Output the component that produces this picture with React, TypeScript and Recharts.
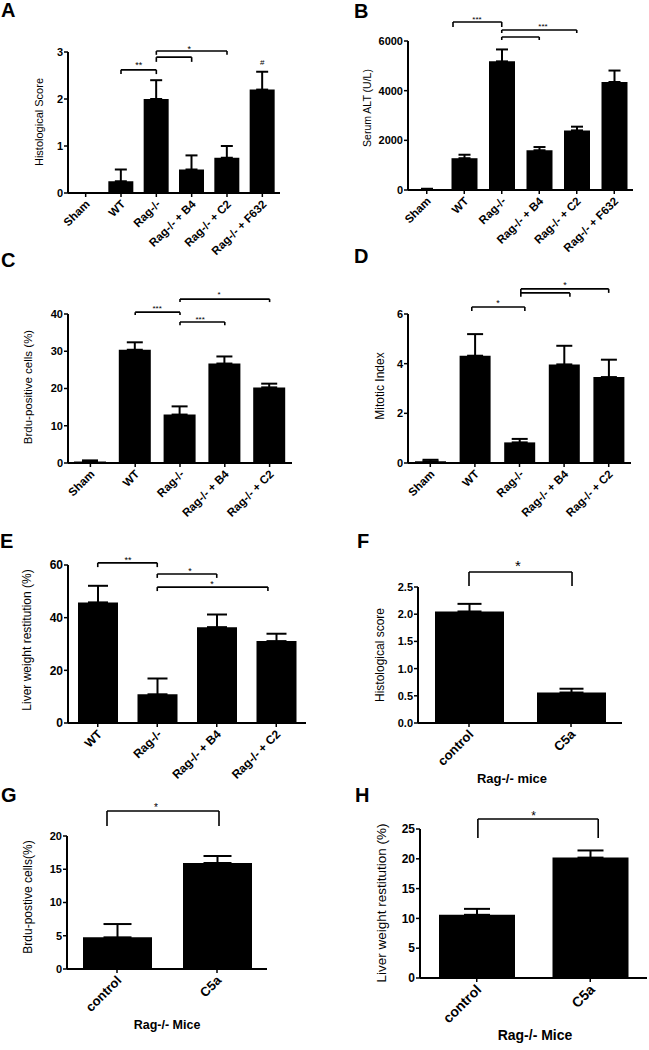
import React from 'react';
import { BarChart, Bar, XAxis, YAxis, ErrorBar, ReferenceLine, ReferenceDot } from 'recharts';

const FONT = '"Liberation Sans", Arial, Helvetica, sans-serif';

// ---------- Data ----------
const catsA = ['Sham', 'WT', 'Rag-/-', 'Rag-/- + B4', 'Rag-/- + C2', 'Rag-/- + F632'];
const valsA = [0, 0.25, 2.0, 0.5, 0.75, 2.2];
const semA = [0, 0.25, 0.4, 0.3, 0.25, 0.38];
const ticksA = [0, 1, 2, 3];

const catsB = ['Sham', 'WT', 'Rag-/-', 'Rag-/- + B4', 'Rag-/- + C2', 'Rag-/- + F632'];
const valsB = [40, 1280, 5180, 1600, 2400, 4350];
const semB = [10, 140, 480, 130, 150, 460];
const ticksB = [0, 2000, 4000, 6000];

const catsC = ['Sham', 'WT', 'Rag-/-', 'Rag-/- + B4', 'Rag-/- + C2'];
const valsC = [0.4, 30.4, 13.0, 26.7, 20.3];
const semC = [0.3, 2.0, 2.2, 1.9, 1.0];
const ticksC = [0, 10, 20, 30, 40];

const catsD = ['Sham', 'WT', 'Rag-/-', 'Rag-/- + B4', 'Rag-/- + C2'];
const valsD = [0.07, 4.32, 0.83, 3.97, 3.46];
const semD = [0.06, 0.87, 0.14, 0.75, 0.7];
const ticksD = [0, 2, 4, 6];

const catsE = ['WT', 'Rag-/-', 'Rag-/- + B4', 'Rag-/- + C2'];
const valsE = [45.8, 10.9, 36.4, 31.1];
const semE = [6.3, 6.0, 4.8, 2.8];
const ticksE = [0, 20, 40, 60];

const catsF = ['control', 'C5a'];
const valsF = [2.05, 0.56];
const semF = [0.14, 0.07];
const ticksF = [0, 0.5, 1.0, 1.5, 2.0, 2.5];

const catsG = ['control', 'C5a'];
const valsG = [4.76, 15.94];
const semG = [2.0, 1.05];
const ticksG = [0, 5, 10, 15, 20];

const catsH = ['control', 'C5a'];
const valsH = [10.6, 20.2];
const semH = [1.0, 1.2];
const ticksH = [0, 5, 10, 15, 20, 25];

// significance brackets (x in category index units, y in data units)
const bracketsA = [
  { x1: 1, x2: 2, y: 2.62, lo: 2.53 },
  { x1: 2, x2: 3, y: 2.89, lo: 2.79 },
  { x1: 2, x2: 4, y: 3.02, lo: 2.94 },
];
const starsA = [
  { x: 1.5, y: 2.72, text: '**', size: 9 },
  { x: 2.93, y: 3.07, text: '*', size: 9 },
  { x: 5.0, y: 2.79, text: '#', size: 8 },
];
const bracketsB = [
  { x1: 0.7, x2: 2, y: 6765, lo: 6564 },
  { x1: 2, x2: 3, y: 6161, lo: 6040 },
  { x1: 2, x2: 4, y: 6443, lo: 6322 },
];
const starsB = [
  { x: 1.34, y: 6874, text: '***', size: 8 },
  { x: 3.1, y: 6604, text: '***', size: 8 },
];
const bracketsC = [
  { x1: 1, x2: 2, y: 40.5, lo: 39.7 },
  { x1: 2, x2: 3, y: 37.85, lo: 37.0 },
  { x1: 2, x2: 4, y: 44.0, lo: 43.2 },
];
const starsC = [
  { x: 1.49, y: 41.6, text: '***', size: 8 },
  { x: 2.45, y: 38.7, text: '***', size: 8 },
  { x: 2.87, y: 45.4, text: '*', size: 8 },
];
const bracketsD = [
  { x1: 0.93, x2: 2.12, y: 6.28, lo: 6.12 },
  { x1: 2.03, x2: 3.13, y: 6.85, lo: 6.69 },
  { x1: 2.03, x2: 4.0, y: 7.01, lo: 6.85 },
];
const starsD = [
  { x: 1.52, y: 6.44, text: '*', size: 9 },
  { x: 3.02, y: 7.17, text: '*', size: 9 },
];
const bracketsE = [
  { x1: 0, x2: 1, y: 60.8, lo: 59.2 },
  { x1: 1, x2: 2, y: 56.6, lo: 55.1 },
  { x1: 1, x2: 2.86, y: 51.6, lo: 50.1 },
];
const starsE = [
  { x: 0.51, y: 61.9, text: '**', size: 9 },
  { x: 1.55, y: 57.7, text: '*', size: 9 },
  { x: 1.92, y: 52.8, text: '*', size: 9 },
];
const bracketsF = [{ x1: 0, x2: 1.01, y: 2.776, lo: 2.518 }];
const starsF = [{ x: 0.48, y: 2.886, text: '*', size: 15 }];
const bracketsG = [{ x1: -0.1, x2: 1.02, y: 23.76, lo: 21.5 }];
const starsG = [{ x: 0.39, y: 24.36, text: '*', size: 10 }];
const bracketsH = [{ x1: 0.01, x2: 1.07, y: 26.68, lo: 23.49 }];
const starsH = [{ x: 0.5, y: 27.18, text: '*', size: 12 }];

// ---------- Layout ----------
type Bracket = { x1: number; x2: number; y: number; lo: number };
type Star = { x: number; y: number; text: string; size: number };
interface Cfg {
  left: number; top: number; width: number; height: number;
  plotL: number; plotR: number; plotT: number; plotB: number;
  cats: string[]; vals: number[]; sem: number[]; ticks: number[]; yMax: number;
  fmt?: (v: number) => string;
  barSize: number; cap: number; tickFs: number; xFs: number; xOff: number;
  brackets: Bracket[]; stars: Star[];
}

const panels: Cfg[] = [
  { left: 0, top: 0, width: 325, height: 265, plotL: 68, plotR: 280, plotT: 52, plotB: 193,
    cats: catsA, vals: valsA, sem: semA, ticks: ticksA, yMax: 3, barSize: 25, cap: 6, tickFs: 11, xFs: 11.5, xOff: 9,
    brackets: bracketsA, stars: starsA },
  { left: 325, top: 0, width: 324, height: 265, plotL: 408, plotR: 633, plotT: 41, plotB: 190,
    cats: catsB, vals: valsB, sem: semB, ticks: ticksB, yMax: 6000, barSize: 26, cap: 6, tickFs: 11, xFs: 11.5, xOff: 9,
    brackets: bracketsB, stars: starsB },
  { left: 0, top: 265, width: 325, height: 265, plotL: 68, plotR: 292, plotT: 314, plotB: 463,
    cats: catsC, vals: valsC, sem: semC, ticks: ticksC, yMax: 40, barSize: 32, cap: 8, tickFs: 11, xFs: 11.5, xOff: 9,
    brackets: bracketsC, stars: starsC },
  { left: 325, top: 265, width: 324, height: 265, plotL: 408, plotR: 631, plotT: 314, plotB: 463,
    cats: catsD, vals: valsD, sem: semD, ticks: ticksD, yMax: 6, barSize: 31, cap: 8, tickFs: 11, xFs: 11.5, xOff: 9,
    brackets: bracketsD, stars: starsD },
  { left: 0, top: 530, width: 325, height: 260, plotL: 68, plotR: 306, plotT: 565, plotB: 723,
    cats: catsE, vals: valsE, sem: semE, ticks: ticksE, yMax: 60, barSize: 40, cap: 10, tickFs: 12, xFs: 12, xOff: 9,
    brackets: bracketsE, stars: starsE },
  { left: 325, top: 530, width: 324, height: 260, plotL: 418, plotR: 622, plotT: 587, plotB: 723,
    cats: catsF, vals: valsF, sem: semF, ticks: ticksF, yMax: 2.5, fmt: (v) => v.toFixed(1), barSize: 69, cap: 12, tickFs: 11, xFs: 13, xOff: 9,
    brackets: bracketsF, stars: starsF },
  { left: 0, top: 790, width: 325, height: 260, plotL: 67, plotR: 267, plotT: 836, plotB: 969,
    cats: catsG, vals: valsG, sem: semG, ticks: ticksG, yMax: 20, barSize: 69, cap: 14, tickFs: 11, xFs: 13, xOff: 9,
    brackets: bracketsG, stars: starsG },
  { left: 325, top: 790, width: 324, height: 260, plotL: 420, plotR: 647, plotT: 829, plotB: 978,
    cats: catsH, vals: valsH, sem: semH, ticks: ticksH, yMax: 25, barSize: 76, cap: 13, tickFs: 12, xFs: 14, xOff: 9,
    brackets: bracketsH, stars: starsH },
];

const letters = [
  { t: 'A', x: 1, y: 17 }, { t: 'B', x: 354, y: 18 },
  { t: 'C', x: 1, y: 267 }, { t: 'D', x: 354, y: 263 },
  { t: 'E', x: 0, y: 548 }, { t: 'F', x: 357, y: 548 },
  { t: 'G', x: 1, y: 802 }, { t: 'H', x: 355, y: 802 },
];

const yTitles = [
  { t: 'Histological Score', x: 39, y: 122, s: 11 },
  { t: 'Serum ALT (U/L)', x: 367, y: 108, s: 10.5 },
  { t: 'Brdu-positive cells (%)', x: 28, y: 387, s: 11.5 },
  { t: 'Mitotic Index', x: 380, y: 386, s: 12 },
  { t: 'Liver weight restitution (%)', x: 27, y: 640, s: 12 },
  { t: 'Histological score', x: 380, y: 655, s: 12 },
  { t: 'Brdu-postive cells(%)', x: 28, y: 897, s: 12 },
  { t: 'Liver weight restitution (%)', x: 381, y: 903, s: 13.5 },
];

const xTitles = [
  { t: 'Rag-/- mice', x: 512, y: 783, s: 13 },
  { t: 'Rag-/- Mice', x: 167, y: 1029, s: 12.5 },
  { t: 'Rag-/- Mice', x: 535, y: 1040, s: 14 },
];

function Panel({ c }: { c: Cfg }) {
  const n = c.cats.length;
  const data = c.vals.map((v, i) => ({ i, v, e: [0, c.sem[i]] }));
  const idx = c.cats.map((_, i) => i);
  const yw = c.plotL - c.left;
  const mt = c.plotT - c.top;
  const mr = c.left + c.width - c.plotR;
  const xh = c.top + c.height - c.plotB;
  const XTick = (p: any) => (
    <g transform={`translate(${p.x + 2},${p.y + c.xOff - 6})`}>
      <text
        x={0}
        y={0}
        dy={c.xFs * 0.35}
        transform="rotate(-45)"
        textAnchor="end"
        fontFamily={FONT}
        fontWeight="bold"
        fontSize={c.xFs}
        fill="#000"
      >
        {c.cats[p.payload.value]}
      </text>
    </g>
  );
  const lineProps = { stroke: '#000', strokeWidth: 1.6, ifOverflow: 'visible' as const };
  const refs: React.ReactNode[] = [];
  c.brackets.forEach((b, k) => {
    refs.push(
      <ReferenceLine key={`h${k}`} {...lineProps} segment={[{ x: b.x1, y: b.y }, { x: b.x2, y: b.y }]} />,
      <ReferenceLine key={`l${k}`} {...lineProps} segment={[{ x: b.x1, y: b.y }, { x: b.x1, y: b.lo }]} />,
      <ReferenceLine key={`r${k}`} {...lineProps} segment={[{ x: b.x2, y: b.y }, { x: b.x2, y: b.lo }]} />
    );
  });
  c.stars.forEach((s, k) => {
    refs.push(
      <ReferenceDot
        key={`s${k}`}
        x={s.x}
        y={s.y}
        r={0}
        fill="none"
        stroke="none"
        ifOverflow="visible"
        label={{ value: s.text, position: 'center', fontSize: s.size, fill: '#000', fontFamily: FONT }}
      />
    );
  });
  return (
    <div style={{ position: 'absolute', left: c.left, top: c.top, width: c.width, height: c.height }}>
      <BarChart
        width={c.width}
        height={c.height}
        data={data}
        margin={{ top: mt, right: mr, bottom: 0, left: 0 }}
      >
        <XAxis
          type="number"
          dataKey="i"
          domain={[-0.5, n - 0.5]}
          ticks={idx}
          interval={0}
          allowDataOverflow
          height={xh}
          axisLine={{ stroke: '#000', strokeWidth: 2 }}
          tickLine={{ stroke: '#000', strokeWidth: 1.5 }}
          tickSize={4}
          tick={XTick}
        />
        <YAxis
          type="number"
          domain={[0, c.yMax]}
          ticks={c.ticks}
          interval={0}
          allowDataOverflow
          width={yw}
          axisLine={{ stroke: '#000', strokeWidth: 2 }}
          tickLine={{ stroke: '#000', strokeWidth: 1.5 }}
          tickSize={4}
          tickMargin={1}
          tickFormatter={c.fmt ? c.fmt : (v: number) => String(v)}
          tick={{ fontSize: c.tickFs, fontWeight: 'bold', fill: '#000', fontFamily: FONT }}
        />
        <Bar dataKey="v" fill="#000" barSize={c.barSize} isAnimationActive={false}>
          <ErrorBar dataKey="e" width={c.cap} stroke="#000" strokeWidth={2} direction="y" />
        </Bar>
        {refs}
      </BarChart>
    </div>
  );
}

export default function App() {
  return (
    <div style={{ position: 'absolute', left: 0, top: 0, width: 649, height: 1050, background: '#fff', overflow: 'hidden' }}>
      {panels.map((c, k) => (
        <Panel key={k} c={c} />
      ))}
      <svg
        width={649}
        height={1050}
        style={{ position: 'absolute', left: 0, top: 0, pointerEvents: 'none' }}
      >
        {letters.map((l) => (
          <text key={l.t} x={l.x} y={l.y} fontFamily={FONT} fontWeight="bold" fontSize={20} fill="#000">
            {l.t}
          </text>
        ))}
        {yTitles.map((t, k) => (
          <text
            key={k}
            transform={`translate(${t.x},${t.y}) rotate(-90)`}
            textAnchor="middle"
            dy="0.35em"
            fontFamily={FONT}
            fontSize={t.s}
            fill="#000"
          >
            {t.t}
          </text>
        ))}
        {xTitles.map((t, k) => (
          <text key={k} x={t.x} y={t.y} textAnchor="middle" fontFamily={FONT} fontWeight="bold" fontSize={t.s} fill="#000">
            {t.t}
          </text>
        ))}
      </svg>
    </div>
  );
}
